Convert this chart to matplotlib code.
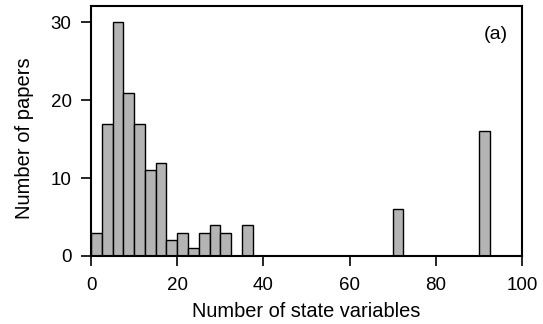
import matplotlib
matplotlib.use("Agg")
import matplotlib.pyplot as plt

# histogram bins (left edge, width 2.5) and counts
bin_left = [0, 2.5, 5, 7.5, 10, 12.5, 15, 17.5, 20, 22.5, 25, 27.5, 30, 35, 70, 90]
counts = [3, 17, 30, 21, 17, 11, 12, 2, 3, 1, 3, 4, 3, 4, 6, 16]
bin_width = 2.5

plt.rcParams['font.family'] = ['Liberation Sans', 'DejaVu Sans']

fig = plt.figure(figsize=(5.43, 3.24), dpi=100)
ax = fig.add_axes([0.1676, 0.21, 0.7937, 0.771])

ax.bar(bin_left, counts, width=bin_width, align='edge',
       color='#b4b4b4', edgecolor='black', linewidth=1.0)

ax.set_xlim(0, 100)
ax.set_ylim(0, 32.1)
ax.set_xticks([0, 20, 40, 60, 80, 100])
ax.set_yticks([0, 10, 20, 30])
ax.tick_params(direction='out', length=7, width=1.2, labelsize=13.5)
ax.tick_params(axis='x', pad=8)
ax.tick_params(axis='y', pad=7)
for s in ax.spines.values():
    s.set_linewidth(1.5)

ax.set_xlabel('Number of state variables', fontsize=14.4, va='baseline')
ax.xaxis.set_label_coords(0.5, -0.244)
ax.set_ylabel('Number of papers', fontsize=14.5)
ax.yaxis.set_label_coords(-0.133, 0.472)
# panel tag, top right inside the axes
ax.text(0.967, 0.888, '(a)', transform=ax.transAxes, fontsize=14, ha='right', va='center')

fig.savefig('out.png', dpi=100)
